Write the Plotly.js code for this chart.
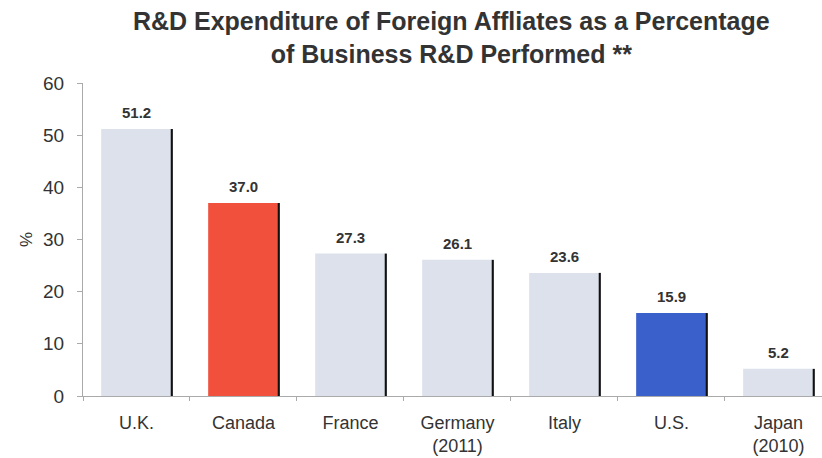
<!DOCTYPE html>
<html>
<head>
<meta charset="utf-8">
<script src="https://cdn.plot.ly/plotly-3.0.1.min.js"></script>
<style>html,body{margin:0;padding:0;background:#fff;}#chart{width:822px;height:458px;}</style>
</head>
<body>
<div id="chart"></div>
<script>
const categories = ["U.K.", "Canada", "France", "Germany<br>(2011)", "Italy", "U.S.", "Japan<br>(2010)"];
const values = [51.2, 37.0, 27.3, 26.1, 23.6, 15.9, 5.2];
const valueLabels = ["51.2", "37.0", "27.3", "26.1", "23.6", "15.9", "5.2"];
const barColors = ["#dce1eb", "#f0503c", "#dce1eb", "#dce1eb", "#dce1eb", "#3a60cc", "#dce1eb"];

const mainBars = {
  type: "bar", x: categories, y: values,
  width: 0.66, offset: -0.33,
  marker: {color: barColors, line: {width: 0}},
  hoverinfo: "skip", showlegend: false
};
const edgeBars = {
  type: "bar", x: categories, y: values,
  width: 0.02, offset: 0.32,
  marker: {color: "#111", line: {width: 0}},
  hoverinfo: "skip", showlegend: false
};

const annotations = categories.map((c, i) => ({
  x: c, y: values[i], xref: "x", yref: "y",
  text: valueLabels[i], showarrow: false,
  yanchor: "bottom", yshift: 6,
  font: {family: "Liberation Sans, Arial, sans-serif", size: 15, color: "#333", weight: "bold"}
}));

const layout = {
  width: 822, height: 458,
  margin: {l: 83, r: 0, t: 83, b: 62},
  paper_bgcolor: "#fff", plot_bgcolor: "#fff",
  barmode: "overlay",
  font: {family: "Liberation Sans, Arial, sans-serif", color: "#333"},
  title: {
    text: "<b>R&D Expenditure of Foreign Affliates as a Percentage<br>of Business R&D Performed **</b>",
    font: {family: "Liberation Sans, Arial, sans-serif", size: 25, color: "#333"},
    xref: "container", x: 0.549, xanchor: "center",
    yref: "container", y: 0.934, yanchor: "middle"
  },
  xaxis: {
    type: "category", range: [-0.5, 6.407],
    showline: true, linecolor: "#aaa", linewidth: 1,
    ticks: "outside", tickson: "boundaries", ticklen: 4, tickcolor: "#aaa",
    tickfont: {size: 18, color: "#333"}, ticklabelstandoff: 10,
    showgrid: false, zeroline: false, fixedrange: true
  },
  yaxis: {
    range: [0, 60], dtick: 10,
    showline: true, linecolor: "#aaa", linewidth: 1,
    ticks: "outside", ticklen: 5, tickcolor: "#aaa",
    tickfont: {size: 19, color: "#333"}, ticklabelstandoff: 9,
    showgrid: false, zeroline: false,
    title: {text: "%", font: {size: 17, color: "#333"}, standoff: 6}
  },
  annotations: annotations
};

Plotly.newPlot("chart", [mainBars, edgeBars], layout, {displayModeBar: false, staticPlot: true});
</script>
</body>
</html>
